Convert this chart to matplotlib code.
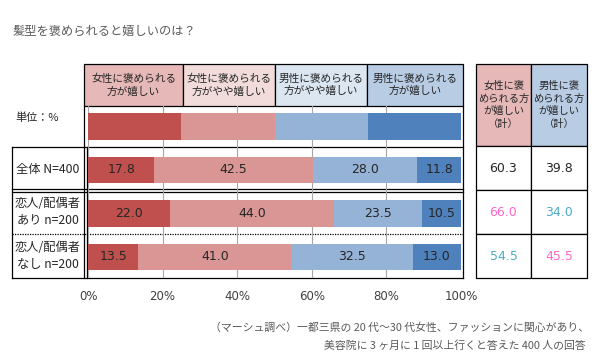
import matplotlib
matplotlib.use("Agg")
import matplotlib.pyplot as plt
import matplotlib.patches as patches

plt.rcParams['font.family'] = ['Noto Sans CJK JP', 'DejaVu Sans']

# data
title = '髪型を褒められると嬉しいのは？'
unit_label = '単位：%'
headers = ['女性に褒められる\n方が嬉しい', '女性に褒められる\n方がやや嬉しい',
           '男性に褒められる\n方がやや嬉しい', '男性に褒められる\n方が嬉しい']
total_headers = ['女性に褒\nめられる方\nが嬉しい\n（計）', '男性に褒\nめられる方\nが嬉しい\n（計）']
categories = ['全体 N=400', '恋人/配偶者\nあり n=200', '恋人/配偶者\nなし n=200']
legend_row = [25, 25, 25, 25]
female_strong = [17.8, 22.0, 13.5]
female_some = [42.5, 44.0, 41.0]
male_some = [28.0, 23.5, 32.5]
male_strong = [11.8, 10.5, 13.0]
female_total = [60.3, 66.0, 54.5]
male_total = [39.8, 34.0, 45.5]
xticks = [0, 20, 40, 60, 80, 100]
xtick_labels = ['0%', '20%', '40%', '60%', '80%', '100%']
footnote = ['（マーシュ調べ）一都三県の 20 代～30 代女性、ファッションに関心があり、',
            '美容院に 3 ヶ月に 1 回以上行くと答えた 400 人の回答']

bar_colors = ['#c0504d', '#d99694', '#95b3d7', '#4f81bd']
header_colors = ['#e6b8b7', '#f2dcdb', '#dce6f1', '#b8cce4']
pink, cyan = '#ff66cc', '#4bacc6'
text_dark = '#262626'

W, H = 600, 361
fig = plt.figure(figsize=(W / 100, H / 100), dpi=100)

# background layer in pixel coordinates for the table frames and texts
bg = fig.add_axes([0, 0, 1, 1])
bg.set_xlim(0, W)
bg.set_ylim(H, 0)
bg.axis('off')

def px(x0, y0, x1, y1):
    return [x0 / W, 1 - y1 / H, (x1 - x0) / W, (y1 - y0) / H]

# bar area: 0% at x=88, 100% at x=461
ax = fig.add_axes(px(88, 106, 461, 278))
ax.patch.set_alpha(0)
ax.set_xlim(0, 100)
ax.set_ylim(3.483, -0.471)

# legend strip (row 0)
left = 0
for v, c in zip(legend_row, bar_colors):
    ax.barh(0, v, left=left, height=0.62, color=c, edgecolor='none')
    left += v

# data rows
series = [female_strong, female_some, male_some, male_strong]
ypos = [1, 2, 3]
lefts = [0.0] * len(categories)
for vals, c in zip(series, bar_colors):
    ax.barh(ypos, vals, left=lefts, height=0.62, color=c, edgecolor='none')
    for y, l, v in zip(ypos, lefts, vals):
        ax.text(l + v / 2, y, f'{v:.1f}', ha='center', va='center',
                fontsize=9, color=text_dark, family='DejaVu Sans')
    lefts = [l + v for l, v in zip(lefts, vals)]

ax.set_xticks(xticks)
ax.set_xticklabels(xtick_labels, fontsize=8.5, color='#404040', family='DejaVu Sans')
ax.tick_params(axis='x', length=0, pad=9)
ax.set_yticks([])
ax.grid(axis='x', color='#a6a6a6', lw=0.8)
ax.set_axisbelow(True)
for s in ax.spines.values():
    s.set_visible(False)

# title and unit
bg.text(13, 31, title, fontsize=8.8, color='#595959', va='center', ha='left')
bg.text(15, 118, unit_label, fontsize=8, color=text_dark, va='center', ha='left')

# header cells above bars
hdr_edges = [84, 183, 275, 367, 463]
for i, (h, c) in enumerate(zip(headers, header_colors)):
    x0, x1 = hdr_edges[i], hdr_edges[i + 1]
    bg.add_patch(patches.Rectangle((x0, 64), x1 - x0, 42, facecolor=c,
                                   edgecolor='black', lw=0.9))
    bg.text((x0 + x1) / 2, 85, h, ha='center', va='center', fontsize=7.7,
            color=text_dark, linespacing=1.3)

# frame around the data rows and left label column
k = dict(color='black', lw=0.9)
bg.plot([12, 463], [147, 147], **k)
bg.plot([12, 463], [278, 278], **k)
bg.plot([12, 12], [147, 278], **k)
bg.plot([84, 84], [106, 278], **k)
bg.plot([87, 87], [147, 278], **k)
bg.plot([463, 463], [106, 278], **k)
bg.plot([12, 463], [189, 189], **k)
bg.plot([12, 463], [192, 192], **k)
bg.plot([12, 463], [234, 234], color='black', lw=0.9, ls=(0, (1, 1)))

row_centers = [169, 212, 256]
for cat, yc in zip(categories, row_centers):
    bg.text(48, yc, cat, ha='center', va='center', fontsize=8.8,
            color=text_dark, linespacing=1.35)

# totals table on the right
tx = [476, 531, 587]
bg.add_patch(patches.Rectangle((tx[0], 64), tx[1] - tx[0], 82,
                               facecolor=header_colors[0], edgecolor='black', lw=0.9))
bg.add_patch(patches.Rectangle((tx[1], 64), tx[2] - tx[1], 82,
                               facecolor=header_colors[3], edgecolor='black', lw=0.9))
for i, h in enumerate(total_headers):
    bg.text((tx[i] + tx[i + 1]) / 2, 105, h, ha='center', va='center',
            fontsize=7.4, color=text_dark, linespacing=1.35)

row_edges = [146, 190, 234, 278]
for r in range(3):
    for i in range(2):
        bg.add_patch(patches.Rectangle((tx[i], row_edges[r]), tx[i + 1] - tx[i],
                                       row_edges[r + 1] - row_edges[r],
                                       facecolor='white', edgecolor='black', lw=0.9))

for r, (f, m) in enumerate(zip(female_total, male_total)):
    if r == 0:
        fc = mc = text_dark
    else:
        fc = pink if f > female_total[0] else cyan
        mc = pink if m > male_total[0] else cyan
    yc = (row_edges[r] + row_edges[r + 1]) / 2
    bg.text((tx[0] + tx[1]) / 2, yc, f'{f:.1f}', ha='center', va='center',
            fontsize=9, color=fc, family='DejaVu Sans')
    bg.text((tx[1] + tx[2]) / 2, yc, f'{m:.1f}', ha='center', va='center',
            fontsize=9, color=mc, family='DejaVu Sans')

# footnote
bg.text(589, 328, footnote[0], ha='right', va='center', fontsize=7.8, color='#595959')
bg.text(586, 346, footnote[1], ha='right', va='center', fontsize=7.8, color='#595959')

fig.savefig('out.png', dpi=100)
